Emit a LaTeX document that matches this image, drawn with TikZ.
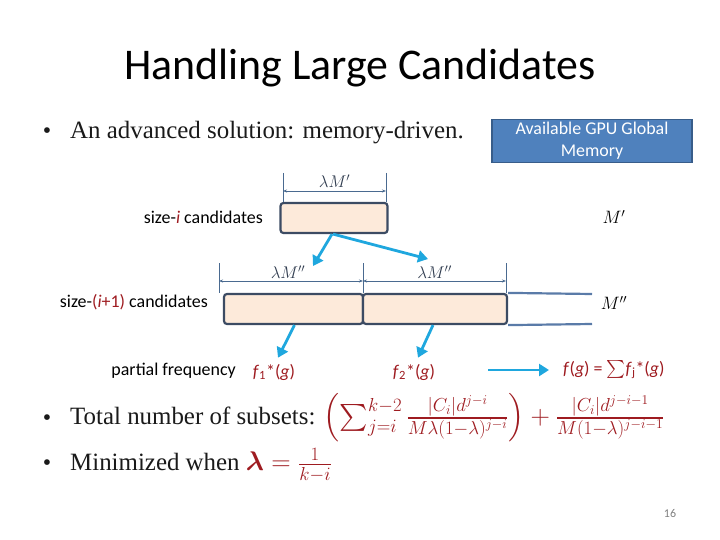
\documentclass[tikz,border=0pt]{standalone}
\usepackage{fix-cm}
\usepackage{amsmath,amssymb,bm}
\usepackage{fontspec}
\setmainfont{Liberation Serif}
\newfontfamily\calibri{Carlito}
\usetikzlibrary{arrows.meta}

\definecolor{boxfill}{HTML}{FDEADA}
\definecolor{boxedge}{HTML}{3C4B63}
\definecolor{dimcol}{HTML}{4A6A90}
\definecolor{rulecol}{HTML}{5A7BA8}
\definecolor{flowblue}{HTML}{1FA7DE}
\definecolor{darkred}{HTML}{9E1B20}
\definecolor{gpufill}{HTML}{4F81BD}
\definecolor{gpuedge}{HTML}{385D8A}
\definecolor{inktext}{HTML}{1A1A1A}

\newcommand{\bigmath}{\fontsize{27}{30}\selectfont}

\begin{document}
\begin{tikzpicture}[x=1bp,y=-1bp,
lbl/.style={font=\calibri\fontsize{18}{21}\selectfont,inner sep=0pt},
fterm/.style={font=\calibri\fontsize{18}{21}\selectfont,text=darkred,inner sep=0pt},
bullettext/.style={font=\fontsize{25}{29}\selectfont,text=inktext,anchor=west,inner sep=0pt},
dot/.style={font=\fontsize{24}{28}\selectfont,text=inktext,inner sep=0pt},
membox/.style={draw=boxedge,line width=2.2pt,fill=boxfill,rounded corners=3pt,minimum height=30bp,inner sep=0pt},
memlabel/.style={font=\fontsize{18}{20}\selectfont,inner sep=0pt},
dimlabel/.style={font=\fontsize{17}{19}\selectfont,text=boxedge!80!black,inner sep=0pt},
dimline/.style={draw=dimcol,line width=0.7pt},
dimarrow/.style={dimline,{Stealth[length=4pt,width=3pt]}-{Stealth[length=4pt,width=3pt]}},
memrule/.style={draw=rulecol,line width=2.2pt},
flow/.style={-{Triangle[length=10pt,width=12pt]},draw=flowblue,line width=2.8pt} ]

\useasboundingbox (0,0) rectangle (720,540);

\node[font=\calibri\fontsize{44}{50}\selectfont] (title) at (360,68) {Handling Large Candidates};

\node[dot] (dot1) at (47,133) {\textbullet};
\node[bullettext] (b1) at (70,133) {An advanced solution: memory-driven.};

\node[draw=gpuedge,line width=1.5pt,fill=gpufill,text=white,align=center,
      minimum width=200bp,minimum height=43bp,inner sep=0pt,
      font=\calibri\fontsize{18}{22}\selectfont] (gpu) at (592,141) {Available GPU Global\\Memory};

% size-i level
\node[membox,minimum width=107bp] (cand) at (334,218) {};
\node[lbl,anchor=east] (lvl1) at (263,217) {size-\textcolor{darkred}{\textit{i}} candidates};
\node[memlabel] (mem1) at (614,217) {$M'$};

\coordinate (t1) at (283,173);
\coordinate (t2) at (386,173);
\draw[dimline] (t1) -- (t1 |- cand.north);
\draw[dimline] (t2) -- (t2 |- cand.north);
\coordinate (d1) at (283,191);
\coordinate (d2) at (386,191);
\draw[dimarrow] (d1) -- node[dimlabel,above=3bp] (lam1) {$\lambda M'$} (d2);

% size-(i+1) level
\node[membox,minimum width=139bp] (part1) at (293.5,309) {};
\node[membox,minimum width=144bp] (part2) at (435,309) {};
\node[lbl,anchor=east] (lvl2) at (208,302) {size-\textcolor{darkred}{(\textit{i}+1)} candidates};
\node[memlabel] (mem2) at (614,303) {$M''$};

\coordinate (s1) at (219,263);
\coordinate (s2) at (363,263);
\coordinate (s3) at (506,263);
\draw[dimline] (s1) -- (s1 |- part1.north);
\draw[dimline] (s2) -- (s2 |- part1.north);
\draw[dimline] (s3) -- (s3 |- part2.north);
\coordinate (e1) at (219,281);
\coordinate (e2) at (363,281);
\coordinate (e3) at (506,281);
\draw[dimarrow] (e1) -- node[dimlabel,above=2bp,xshift=-3bp] (lam2) {$\lambda M''$} (e2);
\draw[dimarrow] (e2) -- node[dimlabel,above=2bp] (lam3) {$\lambda M''$} (e3);

\coordinate (r1) at (592,294);
\coordinate (r2) at (592,324);
\draw[memrule] (part2.north east) -- (r1);
\draw[memrule] (part2.south east) -- (r2);

% copy down
\coordinate (c1) at (313,266);
\coordinate (c2) at (428,259);
\draw[flow] ([xshift=-2bp]cand.south) -- (c1);
\draw[flow] ([xshift=-1bp]cand.south) -- (c2);

% partial frequency
\node[lbl,anchor=east] (pf) at (236,371) {partial frequency};
\node[fterm] (f1) at (274,372) {\textit{f}\textsubscript{1}*(\textit{g})};
\node[fterm] (f2) at (414,372) {\textit{f}\textsubscript{2}*(\textit{g})};
\node[fterm,anchor=west] (fsum) at (563,370) {\textit{f}(\textit{g}) = $\sum$\textit{f}\textsubscript{j}*(\textit{g})};
\draw[flow] ([xshift=1bp]part1.south) -- ([xshift=4bp,yshift=6bp]f1.north);
\draw[flow] ([xshift=-2bp]part2.south) -- ([xshift=4bp,yshift=6bp]f2.north);
\coordinate (gather) at (488,370);
\draw[flow] (gather) -- ([xshift=-14bp]fsum.west);

\node[dot] (dot2) at (47,420) {\textbullet};
\node[bullettext] (b2) at (70,418) {Total number of subsets: \textcolor{darkred}{\bigmath$\left(\sum_{j=i}^{k-2}\frac{|C_i|d^{j-i}}{M\lambda(1-\lambda)^{j-i}}\right)+\frac{|C_i|d^{j-i-1}}{M(1-\lambda)^{j-i-1}}$}};

\node[dot] (dot3) at (47,465) {\textbullet};
\node[bullettext] (b3) at (70,465) {Minimized when \textcolor{darkred}{\bigmath$\bm{\lambda}=\frac{1}{k-i}$}};

\node[font=\calibri\fontsize{12}{14}\selectfont,text=gray] (pagenum) at (670,514) {16};

\end{tikzpicture}
\end{document}
